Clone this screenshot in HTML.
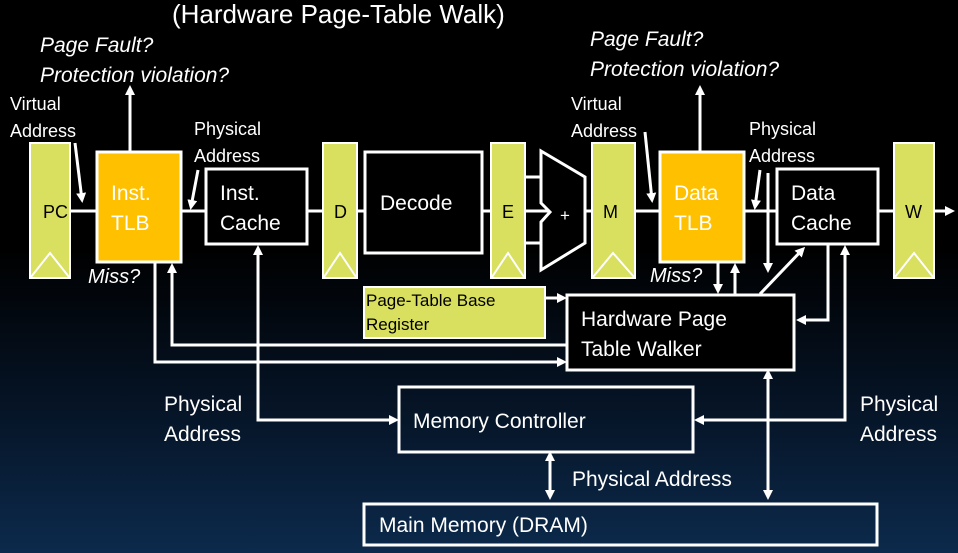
<!DOCTYPE html>
<html><head><meta charset="utf-8"><style>
html,body{margin:0;padding:0;}
body{width:958px;height:553px;overflow:hidden;background:linear-gradient(180deg,#000 0%,#000 45%,#061528 75%,#0c2a4c 100%);}
svg{display:block;font-family:"Liberation Sans",sans-serif;}
</style></head><body>
<svg width="958" height="553" viewBox="0 0 958 553">
<defs>
<marker id="a" markerWidth="10" markerHeight="10" refX="7" refY="5" orient="auto" markerUnits="userSpaceOnUse">
<path d="M0,0 L10,5 L0,10 Z" fill="#fff"/></marker>
<marker id="s" markerWidth="10" markerHeight="10" refX="3" refY="5" orient="auto-start-reverse" markerUnits="userSpaceOnUse">
<path d="M0,0 L10,5 L0,10 Z" fill="#fff"/></marker>
</defs>
<g fill="#fff" font-size="26"><text x="172" y="23">(Hardware Page-Table Walk)</text></g>
<g fill="#fff" font-size="21" font-style="italic">
<text x="40" y="52">Page Fault?</text><text x="40" y="82">Protection violation?</text>
<text x="590" y="46">Page Fault?</text><text x="590" y="76">Protection violation?</text>
<text x="88" y="283" font-size="20">Miss?</text><text x="650" y="282" font-size="20">Miss?</text>
</g>
<g fill="#fff" font-size="18">
<text x="10" y="110">Virtual</text><text x="10" y="137">Address</text>
<text x="194" y="135">Physical</text><text x="194" y="162">Address</text>
<text x="571" y="110">Virtual</text><text x="571" y="137">Address</text>
<text x="749" y="135">Physical</text><text x="749" y="162">Address</text>
</g>
<g stroke="#fff" stroke-width="3" fill="none">
<line x1="70" y1="211" x2="952" y2="211" marker-end="url(#a)"/>
<line x1="525" y1="177" x2="541" y2="177"/><line x1="525" y1="243" x2="541" y2="243"/>
<line x1="130" y1="151" x2="130" y2="88" marker-end="url(#a)"/>
<line x1="700" y1="151" x2="700" y2="88" marker-end="url(#a)"/>
<line x1="75" y1="143" x2="82" y2="200" marker-end="url(#a)"/>
<line x1="198" y1="170" x2="191" y2="207" marker-end="url(#a)"/>
<line x1="645" y1="132" x2="652" y2="200" marker-end="url(#a)"/>
<line x1="760" y1="170" x2="755" y2="207" marker-end="url(#a)"/>
<line x1="768" y1="173" x2="768" y2="270" marker-end="url(#a)"/>
<polyline points="155,262 155,362 564,362" marker-end="url(#a)"/>
<polyline points="567,345 172,345 172,266" marker-end="url(#a)"/>
<polyline points="258,420 258,248" marker-end="url(#a)"/>
<polyline points="258,400 258,420 396,420" marker-end="url(#a)"/>
<line x1="718" y1="262" x2="718" y2="291" marker-end="url(#a)"/>
<line x1="735" y1="294" x2="735" y2="266" marker-end="url(#a)"/>
<line x1="760" y1="294" x2="803" y2="249" marker-end="url(#a)"/>
<polyline points="828,244 828,320 799,320" marker-end="url(#a)"/>
<polyline points="845,420 845,248" marker-end="url(#a)"/>
<polyline points="845,400 845,420 697,420" marker-end="url(#a)"/>
<line x1="545" y1="298" x2="564" y2="298" marker-end="url(#a)"/>
<line x1="768" y1="376" x2="768" y2="497" marker-start="url(#s)" marker-end="url(#a)"/>
<line x1="550" y1="458" x2="550" y2="497" marker-start="url(#s)" marker-end="url(#a)"/>
</g>
<g stroke="#fff" stroke-width="2" fill="#d9df5e">
<rect x="30" y="143" width="40" height="135"/>
<rect x="323" y="143" width="34" height="135"/>
<rect x="491" y="143" width="34" height="135"/>
<rect x="592" y="143" width="43" height="135"/>
<rect x="894" y="143" width="40" height="135"/>
</g>
<g stroke="#fff" stroke-width="2" fill="none">
<polyline points="31,277 50,253 69,277"/><polyline points="324,277 340,253 356,277"/>
<polyline points="492,277 508,253 524,277"/><polyline points="593,277 613,253 634,277"/>
<polyline points="895,277 914,253 933,277"/>
</g>
<g fill="#000" font-size="18">
<text x="43" y="218">PC</text><text x="334" y="218">D</text><text x="502" y="218">E</text>
<text x="603" y="218">M</text><text x="905" y="218">W</text>
</g>
<g stroke="#fff" stroke-width="3">
<rect x="97" y="152" width="84" height="110" fill="#ffc000"/>
<rect x="660" y="152" width="84" height="110" fill="#ffc000"/>
<rect x="206" y="169" width="101" height="75" fill="#000"/>
<rect x="365" y="152" width="117" height="101" fill="#000"/>
<rect x="777" y="169" width="101" height="75" fill="#000"/>
<rect x="567" y="295" width="227" height="75" fill="#000"/>
<polygon points="541,151 585,177 585,243 541,270 541,222 550,212 541,203" fill="#000"/>
<rect x="399" y="387" width="294" height="65" fill="none"/>
<rect x="364" y="504" width="513" height="41" fill="none"/>
</g>
<rect x="364" y="287" width="181" height="51" fill="#d9df5e" stroke="#fff" stroke-width="2"/>
<g fill="#fff" font-size="21">
<text x="111" y="200">Inst.</text><text x="111" y="230">TLB</text>
<text x="674" y="200">Data</text><text x="674" y="230">TLB</text>
<text x="220" y="200">Inst.</text><text x="220" y="230">Cache</text>
<text x="791" y="200">Data</text><text x="791" y="230">Cache</text>
<text x="380" y="210">Decode</text>
<text x="560" y="221" font-size="17">+</text>
<text x="581" y="326">Hardware Page</text><text x="581" y="356">Table Walker</text>
<text x="413" y="428">Memory Controller</text>
<text x="379" y="532">Main Memory (DRAM)</text>
<text x="572" y="486">Physical Address</text>
<text x="164" y="411">Physical</text><text x="164" y="441">Address</text>
<text x="860" y="411">Physical</text><text x="860" y="441">Address</text>
</g>
<g fill="#000" font-size="17"><text x="366" y="306">Page-Table Base</text><text x="366" y="330">Register</text></g>
</svg>
</body></html>
